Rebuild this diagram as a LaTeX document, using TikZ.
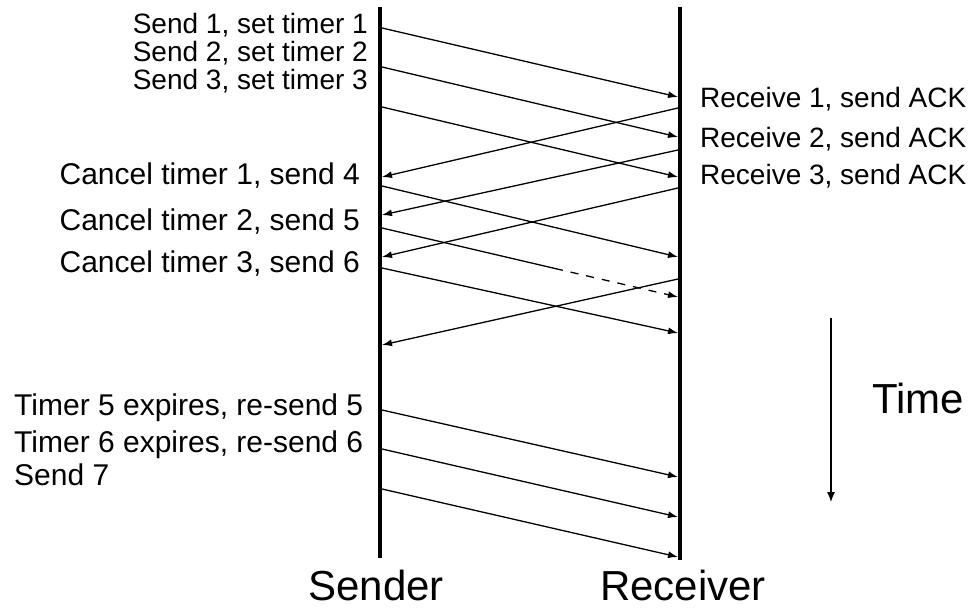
\documentclass[tikz,border=0pt]{standalone}
\usepackage{fontspec}
\setmainfont{Liberation Sans}
\usetikzlibrary{arrows.meta}
\begin{document}
\begin{tikzpicture}[x=1pt,y=-1pt,
  bar/.style={line width=4pt},
  msg/.style={line width=1.3pt,-{Latex[length=10pt,width=7pt]}},
  lbl/.style={inner sep=0pt,font=\fontsize{30}{30}\selectfont},
  slbl/.style={inner sep=0pt,font=\fontsize{28}{28}\selectfont},
  rlbl/.style={inner sep=0pt,font=\fontsize{28}{28}\selectfont},
  big/.style={inner sep=0pt,font=\fontsize{42}{42}\selectfont}]
\useasboundingbox (0,0) rectangle (976,609);
% time lines
\coordinate (stop) at (380,7);  \coordinate (sbot) at (380,558);
\coordinate (rtop) at (680,7);  \coordinate (rbot) at (680,560);
\draw[bar] (stop) -- (sbot);
\draw[bar] (rtop) -- (rbot);
% events
\coordinate (s1) at (382,28);   \coordinate (r1) at (678,97);
\coordinate (s2) at (382,67);   \coordinate (r2) at (678,137);
\coordinate (s3) at (382,107);  \coordinate (r3) at (678,177);
\coordinate (a1s) at (678,108); \coordinate (a1e) at (382,177);
\coordinate (a2s) at (678,150); \coordinate (a2e) at (382,215);
\coordinate (a3s) at (678,188); \coordinate (a3e) at (382,257);
\coordinate (s4) at (382,186);  \coordinate (r4) at (678,257);
\coordinate (s5) at (382,228);  \coordinate (lost) at (555,268.5); \coordinate (r5) at (678,297);
\coordinate (s6) at (382,268);  \coordinate (r6) at (678,333);
\coordinate (a4s) at (678,279); \coordinate (a4e) at (382,345);
\coordinate (s5b) at (382,410); \coordinate (r5b) at (678,477);
\coordinate (s6b) at (382,449); \coordinate (r6b) at (678,517);
\coordinate (s7) at (382,489);  \coordinate (r7) at (678,557);
% messages
\draw[msg] (s1) -- (r1);
\draw[msg] (s2) -- (r2);
\draw[msg] (s3) -- (r3);
\draw[msg] (a1s) -- (a1e);
\draw[msg] (a2s) -- (a2e);
\draw[msg] (a3s) -- (a3e);
\draw[msg] (s4) -- (r4);
\draw[line width=1.3pt] (s5) -- (lost);
\draw[msg,dash pattern=on 8pt off 8pt] (lost) -- (r5);
\draw[msg] (s6) -- (r6);
\draw[msg] (a4s) -- (a4e);
\draw[msg] (s5b) -- (r5b);
\draw[msg] (s6b) -- (r6b);
\draw[msg] (s7) -- (r7);
% sender labels
\node[slbl,anchor=base east] (l1) at (368,34) {Send 1, set timer 1};
\node[slbl,anchor=base east] (l2) at (368,62) {Send 2, set timer 2};
\node[slbl,anchor=base east] (l3) at (368,90) {Send 3, set timer 3};
\node[lbl,anchor=base east] (l4) at (360,185) {Cancel timer 1, send 4};
\node[lbl,anchor=base east] (l5) at (360,231) {Cancel timer 2, send 5};
\node[lbl,anchor=base east] (l6) at (360,273) {Cancel timer 3, send 6};
\node[lbl,anchor=base west] (l7) at (14,415) {Timer 5 expires, re-send 5};
\node[lbl,anchor=base west] (l8) at (14,452) {Timer 6 expires, re-send 6};
\node[lbl,anchor=base west] (l9) at (14,485) {Send 7};
% receiver labels
\node[rlbl,anchor=base west] (m1) at (700,108) {Receive 1, send ACK};
\node[rlbl,anchor=base west] (m2) at (700,148) {Receive 2, send ACK};
\node[rlbl,anchor=base west] (m3) at (700,185) {Receive 3, send ACK};
% axis labels
\node[big,anchor=base] (snd) at (376,600) {Sender};
\node[big,anchor=base] (rcv) at (683,600) {Receiver};
% time arrow
\coordinate (t0) at (831,318); \coordinate (t1) at (831,502);
\draw[line width=1.2pt,-{Latex[length=10pt,width=8pt]}] (t0) -- (t1);
\node[inner sep=0pt,font=\fontsize{42}{42}\selectfont,anchor=base west] (time) at (872,413) {Time};
\end{tikzpicture}
\end{document}
